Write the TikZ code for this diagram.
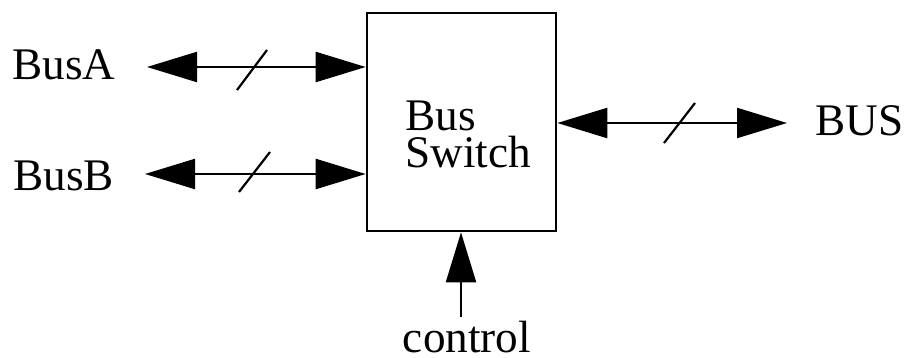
\documentclass[tikz,border=0pt]{standalone}
\usepackage{fontspec}
\setmainfont{Liberation Serif}
\usetikzlibrary{arrows.meta}
\begin{document}
\begin{tikzpicture}[x=0.5pt,y=-0.5pt,
  lbl/.style={inner sep=0pt, anchor=base west, font=\fontsize{22.6}{20}\selectfont},
  busarrow/.style={line width=1.1pt, {Triangle[length=25pt,width=15pt]}-{Triangle[length=25pt,width=15pt]}},
  ctrlarrow/.style={line width=1.1pt, -{Triangle[length=25pt,width=15pt]}},
  slash/.style={line width=1.1pt},
  box/.style={draw, line width=1.3pt, minimum width=94.5pt, minimum height=109pt, inner sep=0pt}]
\useasboundingbox (0,0) rectangle (904,358);
\node[box] (sw) at (461.5,122) {};
\node[lbl, text depth=0pt] (swA) at (405,130) {Bus};
\node[lbl] (swB) at (405,167) {Switch};
\node[lbl] (busa) at (12,80) {BusA};
\node[lbl] (busb) at (13,190) {BusB};
\node[lbl] (bus) at (815,135) {BUS};
\node[lbl, anchor=base, text depth=0pt] (ctrl) at (467,352) {control};
\coordinate (aL) at (147,67);
\coordinate (bL) at (145,174);
\coordinate (cR) at (787,123);
\coordinate (ct) at (461,317);
\draw[busarrow] (aL) -- (sw.west |- aL);
\draw[busarrow] (bL) -- (sw.west |- bL);
\draw[busarrow] (sw.east |- cR) -- (cR);
\draw[ctrlarrow] (ct) -- (sw.south -| ct);
\draw[slash] (237,90) -- (267,50);
\draw[slash] (239,192) -- (270,152);
\draw[slash] (664,143) -- (695,103);
\end{tikzpicture}
\end{document}
